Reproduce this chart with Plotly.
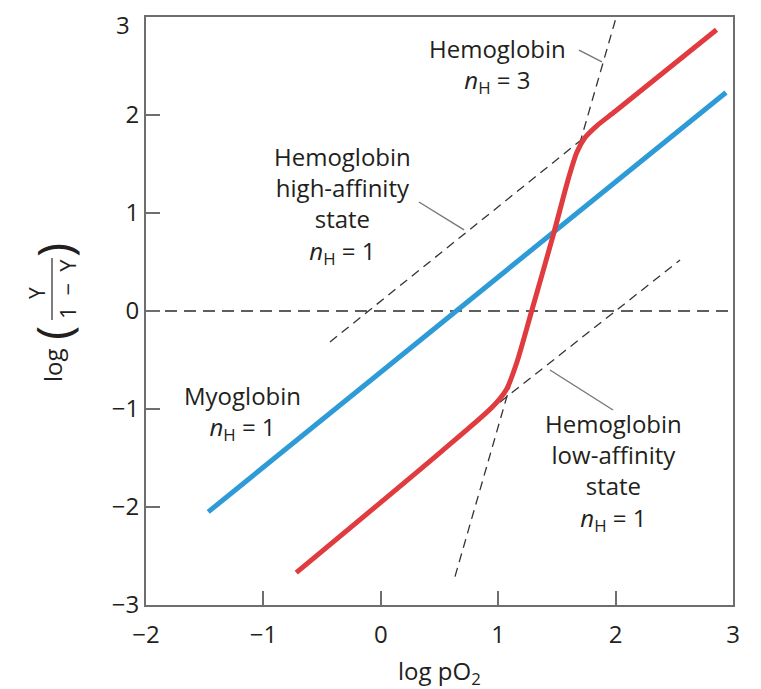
import plotly.graph_objects as go

# ---- data ----
myo_x = [-1.47, 2.94]
myo_y = [-2.05, 2.23]

hb_x = [-0.72, 0.50, 0.95, 1.07, 1.16, 1.285, 1.47, 1.60, 1.67, 1.74, 1.84, 2.00, 2.86]
hb_y = [-2.67, -1.45, -0.98, -0.80, -0.52, 0.00, 0.78, 1.36, 1.62, 1.77, 1.89, 2.04, 2.87]

n3_x = [0.632, 2.003]
n3_y = [-2.71, 2.99]

high_x = [-0.433, 1.739]
high_y = [-0.316, 1.776]

low_x = [1.015, 2.549]
low_y = [-0.93, 0.52]

zero_x = [-2, 3]
zero_y = [0, 0]

lead_n3_x = [1.688, 1.884]
lead_n3_y = [2.663, 2.541]
lead_high_x = [0.325, 0.709]
lead_high_y = [1.112, 0.827]
lead_low_x = [1.441, 1.978]
lead_low_y = [-0.602, -1.01]

tick_vals = [-2, -1, 0, 1, 2, 3]
ytick_vals = [-3, -2, -1, 0, 1, 2, 3]

labels = [
    ("Hemoglobin<br><i>n</i><sub>H</sub> = 3", 0.99, 2.505),
    ("Hemoglobin<br>high-affinity<br>state<br><i>n</i><sub>H</sub> = 1", -0.33, 1.082),
    ("Myoglobin<br><i>n</i><sub>H</sub> = 1", -1.174, -1.036),
    ("Hemoglobin<br>low-affinity<br>state<br><i>n</i><sub>H</sub> = 1", 1.978, -1.638),
]

FONT = "Open Sans"
TXT = "#231f20"
AX = "#6e6e6e"

# page body has an 8px margin; compensate so the plot lands where the reference has it
OFF = 8
W, H = 761 - OFF, 689 - OFF
L, R, T, B = 146 - OFF, 28, 17 - OFF, 84

fig = go.Figure()

def line(x, y, color, width, dash=None):
    fig.add_trace(go.Scatter(x=x, y=y, mode="lines", hoverinfo="skip",
                             line=dict(color=color, width=width, dash=dash)))

line(zero_x, zero_y, "#2a2a2a", 1.6, "12px,7px")
line(n3_x, n3_y, "#333333", 1.3, "9px,6px")
line(high_x, high_y, "#333333", 1.3, "9px,6px")
line(low_x, low_y, "#333333", 1.3, "9px,6px")
line(lead_n3_x, lead_n3_y, "#777777", 1.4)
line(lead_high_x, lead_high_y, "#777777", 1.4)
line(lead_low_x, lead_low_y, "#777777", 1.4)

fig.add_trace(go.Scatter(x=myo_x, y=myo_y, mode="lines", hoverinfo="skip",
                         line=dict(color="#2e9bd6", width=5)))
fig.add_trace(go.Scatter(x=hb_x, y=hb_y, mode="lines", hoverinfo="skip",
                         line=dict(color="#e03c3f", width=5, shape="spline", smoothing=0.7)))

for text, x, y in labels:
    fig.add_annotation(x=x, y=y, xref="x", yref="y", text=text, showarrow=False,
                       xanchor="center", yanchor="middle",
                       font=dict(family=FONT, size=24, color=TXT))

# screen pixel -> paper coordinates of the plot area (146..733 x 17..605 on screen)
def px2paper(px, py):
    return (px - 146) / 587, (605 - py) / 588

# top y tick label "3" sits a little lower than its tick in the reference
tx, ty = px2paper(131, 24.5)
fig.add_annotation(x=tx, y=ty, xref="paper", yref="paper", text="3", showarrow=False,
                   xanchor="right", yanchor="middle", borderpad=0,
                   font=dict(family=FONT, size=24, color=TXT))

# x-axis title
ax_, ay_ = px2paper(439.5, 672)
fig.add_annotation(x=ax_, y=ay_, xref="paper", yref="paper", text="log pO<sub>2</sub>",
                   showarrow=False, xanchor="center", yanchor="middle",
                   font=dict(family=FONT, size=24, color=TXT))

# y-axis title built from pieces: log ( Y / (1 - Y) )
def ytitle(text, px, py, size):
    x, y = px2paper(px, py)
    fig.add_annotation(x=x, y=y, xref="paper", yref="paper", text=text, showarrow=False,
                       textangle=-90, xanchor="center", yanchor="middle",
                       font=dict(family=FONT, size=size, color=TXT))

ytitle("log", 52, 365, 24)
ytitle("(", 53, 333, 48)
ytitle(")", 53, 250, 48)
ytitle("Y", 37, 293, 21)
ytitle("1\u2002\u2212\u2002Y", 67, 289, 22)
fx0, fy0 = px2paper(52, 258)
fx1, fy1 = px2paper(52, 320)
fig.add_shape(type="line", xref="paper", yref="paper", x0=fx0, x1=fx1, y0=fy0, y1=fy1,
              line=dict(color="#555555", width=1.5))

fig.update_layout(
    width=W, height=H,
    margin=dict(l=L, r=R, t=T, b=B, autoexpand=False),
    paper_bgcolor="white", plot_bgcolor="white",
    showlegend=False,
    font=dict(family=FONT, color=TXT),
)
fig.update_xaxes(range=[-2, 3], tickvals=tick_vals,
                 ticktext=[("\u2212" + str(-v)) if v < 0 else str(v) for v in tick_vals],
                 ticks="inside", ticklen=14, tickwidth=2, tickcolor=AX,
                 showline=True, linecolor=AX, linewidth=2, mirror=True,
                 showgrid=False, zeroline=False, ticklabelstandoff=7,
                 tickfont=dict(family=FONT, size=24, color=TXT))
fig.update_yaxes(range=[-3, 3], tickvals=ytick_vals,
                 ticktext=[("\u2212" + str(-v)) if v < 0 else ("" if v == 3 else str(v)) for v in ytick_vals],
                 ticks="inside", ticklen=14, tickwidth=2, tickcolor=AX,
                 showline=True, linecolor=AX, linewidth=2, mirror=True,
                 showgrid=False, zeroline=False,
                 tickfont=dict(family=FONT, size=24, color=TXT))

fig.write_html("out.html")
